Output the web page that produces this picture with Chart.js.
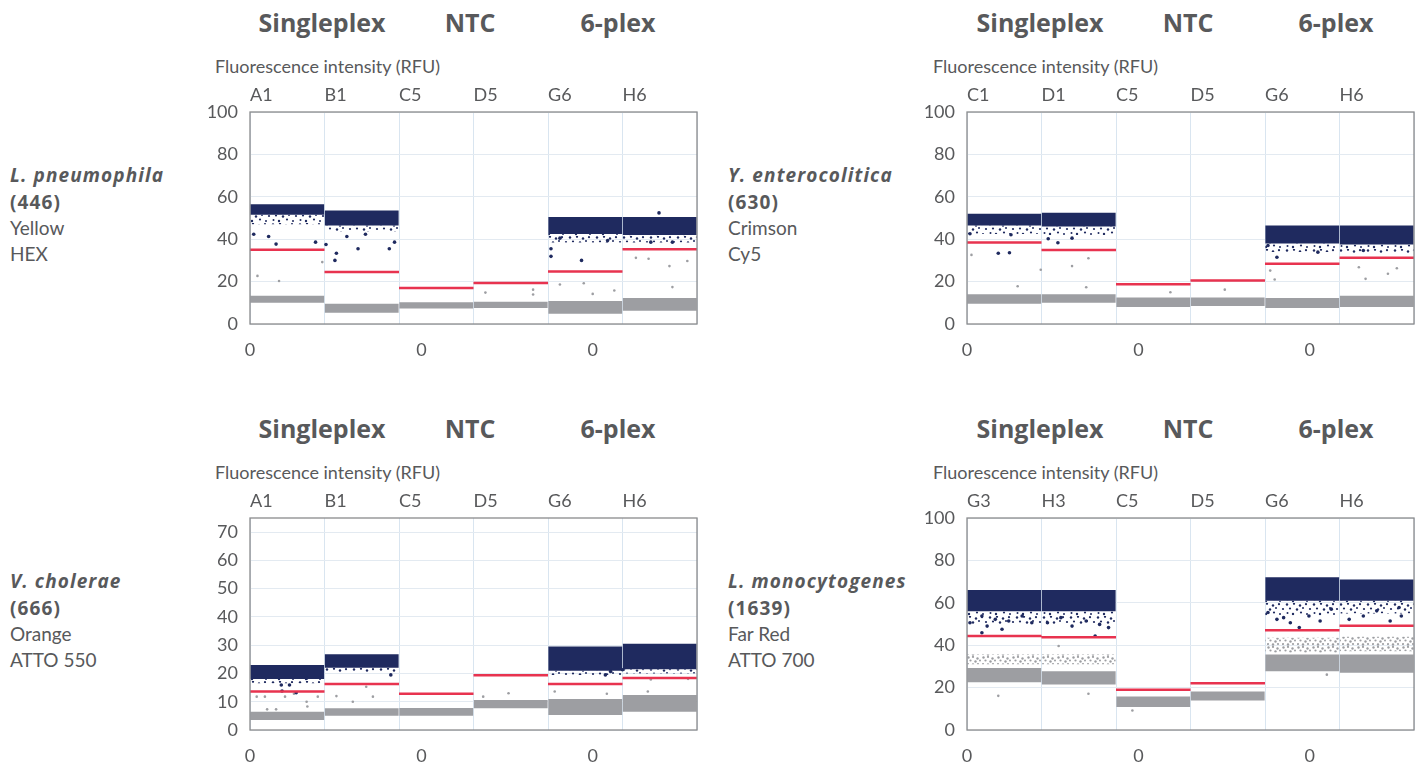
<!DOCTYPE html>
<html>
<head>
<meta charset="utf-8">
<script src="https://cdn.jsdelivr.net/npm/chart.js@4.4.1/dist/chart.umd.min.js"></script>
<style>
  body { margin: 0; width: 1421px; height: 769px; overflow: hidden; background: #fff;
         font-family: Lato, "Open Sans", sans-serif; color: #58595b; position: relative; }
  .plot { position: absolute; width: 520px; height: 290px; }
  .hdr { position: absolute; font-family: "Open Sans", sans-serif; font-weight: 700; font-size: 25px;
         transform: translate(-50%, -50%); white-space: nowrap; }
  .rfu { position: absolute; font-size: 18px; transform: translateY(-50%); white-space: nowrap; }
  .sp { position: absolute; font-size: 19px; line-height: 25.5px; white-space: nowrap; }
  .sp b { font-family: "Open Sans", sans-serif; font-weight: 700; font-size: 19px; letter-spacing: 1.1px; }
</style>
</head>
<body>

<div class="plot" style="left:190px; top:80px;"><canvas id="lp"></canvas></div>
<div class="plot" style="left:907px; top:80px;"><canvas id="ye"></canvas></div>
<div class="plot" style="left:190px; top:486px;"><canvas id="vc"></canvas></div>
<div class="plot" style="left:907px; top:486px;"><canvas id="lm"></canvas></div>

<script>
// shared labels
const groupTitles = ["Singleplex", "NTC", "6-plex"];
const axisTitle = "Fluorescence intensity (RFU)";
const eventTicks = [0, 2.3, 4.6];
const eventTickLabels = ["0", "0", "0"];

// L. pneumophila (top left)
const lpTarget = ["L. pneumophila", "(446)", "Yellow", "HEX"];
const lpWells = ["A1", "B1", "C5", "D5", "G6", "H6"];
const lpYTicks = [0, 20, 40, 60, 80, 100];
const lpYMax = 100;
const lpPosCore = [[51.5, 56.5], [46.5, 53.5], null, null, [42.5, 50.5], [42, 50.5]];
const lpPosRain = [[47, 51.5], [43.5, 46.5], null, null, [38.5, 42.5], [38.5, 42]];
const lpNeg = [[10, 13.3], [5.3, 9.5], [7.3, 10.3], [7.5, 10.5], [4.8, 10.8], [6.3, 12.3]];
const lpNegUpper = [null, null, null, null, null, null];
const lpThreshold = [35, 24.5, 17, 19.3, 24.8, 35.3];
const lpPosDots = [[0.05, 42.3], [0.25, 41.3], [0.35, 37.7], [0.88, 38.6], [1.02, 37.5], [1.16, 33.4],
  [1.14, 30], [1.3, 41.3], [1.45, 35.5], [1.55, 42.3], [1.87, 35.5], [1.94, 38.6], [4.04, 35.5],
  [4.04, 31.9], [4.45, 30], [4.16, 40.5], [4.8, 39.4], [5.38, 38.6], [5.49, 52.4], [5.67, 38.6]];
const lpNegDots = [[0.1, 22.7], [0.39, 20.3], [0.97, 29.2], [3.16, 14.8], [3.8, 16.2], [3.8, 13.9],
  [4.16, 18.6], [4.48, 19.2], [4.6, 14.2], [4.89, 15.8], [5.18, 31.2], [5.35, 30.8], [5.63, 27.3],
  [5.87, 29.7], [5.67, 17.4]];

// Y. enterocolitica (top right)
const yeTarget = ["Y. enterocolitica", "(630)", "Crimson", "Cy5"];
const yeWells = ["C1", "D1", "C5", "D5", "G6", "H6"];
const yeYTicks = [0, 20, 40, 60, 80, 100];
const yeYMax = 100;
const yePosCore = [[46.5, 52], [46, 52.5], null, null, [38, 46.5], [37.5, 46.5]];
const yePosRain = [[42.5, 46.5], [42, 46], null, null, [34, 38], [33.5, 37.5]];
const yeNeg = [[9.5, 14], [10, 14], [8, 12.5], [8.5, 12.5], [7.5, 12.3], [8, 13.3]];
const yeNegUpper = [null, null, null, null, null, null];
const yeThreshold = [38.5, 34.9, 18.8, 20.5, 28.4, 31.3];
const yePosDots = [[0.04, 42.6], [0.59, 42.1], [0.42, 33.4], [0.57, 33.6], [1.09, 40.2], [1.22, 38.3],
  [1.41, 40.5], [4.04, 37], [4.16, 31.5], [4.71, 33.9], [5.08, 38.6], [5.32, 34.7]];
const yeNegDots = [[0.06, 32.6], [0.99, 25.6], [1.41, 27.3], [1.63, 31], [0.68, 17.8], [1.6, 17.3],
  [2.73, 15], [3.46, 16.2], [4.07, 25.2], [4.13, 21], [5.26, 26.8], [5.35, 21.3], [5.65, 23.7], [5.77, 26.3]];

// V. cholerae (bottom left)
const vcTarget = ["V. cholerae", "(666)", "Orange", "ATTO 550"];
const vcWells = ["A1", "B1", "C5", "D5", "G6", "H6"];
const vcYTicks = [0, 10, 20, 30, 40, 50, 60, 70];
const vcYMax = 75;
const vcPosCore = [[18, 23], [22, 26.8], null, null, [21, 29.5], [21.5, 30.5]];
const vcPosRain = [[16.5, 18], [20.5, 22], null, null, [19.5, 21], [20, 21.5]];
const vcNeg = [[3.5, 6.5], [5, 7.7], [5, 7.8], [7.7, 10.6], [5.3, 11], [6.5, 12.4]];
const vcNegUpper = [null, null, null, null, null, null];
const vcThreshold = [13.6, 16.3, 12.8, 19.4, 16.3, 18.4];
const vcPosDots = [[0.42, 15.9], [0.53, 15.9], [0.43, 13.8], [0.62, 13.2], [0.76, 18.3], [1.89, 19.5],
  [4.77, 19.5], [4.84, 20.7], [5.0, 21.3]];
const vcNegDots = [[0.09, 11.8], [0.2, 11.8], [0.23, 7.3], [0.35, 7.3], [0.47, 11.8], [0.59, 12.8],
  [0.76, 10], [0.77, 8.3], [0.91, 11.8], [1.16, 12], [1.38, 10], [1.56, 15.3], [1.65, 11.8],
  [3.13, 11.8], [3.47, 13], [4.09, 13.6], [4.79, 12.8], [5.38, 17.9], [5.34, 13.6], [5.88, 18.1]];

// L. monocytogenes (bottom right)
const lmTarget = ["L. monocytogenes", "(1639)", "Far Red", "ATTO 700"];
const lmWells = ["G3", "H3", "C5", "D5", "G6", "H6"];
const lmYTicks = [0, 20, 40, 60, 80, 100];
const lmYMax = 100;
const lmPosCore = [[56, 66], [56, 66], null, null, [61, 72], [61, 71]];
const lmPosRain = [[50, 56], [50, 56], null, null, [54, 61], [55, 61]];
const lmNeg = [[22.5, 29.3], [21.5, 27.7], [10.8, 15.8], [13.9, 18.2], [27.7, 35.6], [27, 35.6]];
const lmNegUpper = [[31, 35.6], [31, 35.6], null, null, [36.5, 43.5], [37.2, 44]];
const lmThreshold = [44.3, 43.7, 19, 22, 47, 49.2];
const lmPosDots = [[0.04, 50.6], [0.2, 53.8], [0.27, 49], [0.38, 52.2], [0.47, 47.5], [0.56, 51.4],
  [0.74, 53.8], [0.87, 50.6], [0.2, 45.9], [1.08, 50.6], [1.26, 53], [1.41, 49], [1.6, 51.4],
  [1.78, 49.8], [1.9, 48.3], [1.72, 44.3], [4.04, 55.4], [4.16, 52.2], [4.25, 53], [4.34, 50.6],
  [4.46, 48.3], [4.59, 53.8], [4.74, 51.4], [4.89, 57], [5.13, 52.2], [5.32, 53.8], [5.5, 56.2],
  [5.68, 51.4], [5.83, 53.8], [5.8, 57.8]];
const lmNegDots = [[0.42, 16.1], [1.63, 17.1], [2.22, 9.2], [1.23, 39.6], [4.83, 26.1]];

const navy = "#1f2a5f";
const grey = "#9d9ea2";
const red = "#e8334f";
const textColor = "#58595b";

// dotted tile used as fill for the sparse parts of the droplet clouds
function dotPattern(color, dots, w, h) {
  const c = document.createElement("canvas");
  c.width = w; c.height = h;
  const g = c.getContext("2d");
  g.fillStyle = color;
  dots.forEach(d => { g.beginPath(); g.arc(d[0], d[1], d[2], 0, Math.PI * 2); g.fill(); });
  return g.createPattern(c, "repeat");
}
const navyRain = dotPattern(navy, [[2, 1.5, 1.2], [9, 0.8, 1.1], [15, 2.5, 1.2], [21, 1.2, 1.1],
  [5, 5.5, 1.1], [12, 6.5, 1.2], [18, 5, 1], [25, 6, 1.1], [2.5, 10, 1], [8, 11, 1.2],
  [16, 9.5, 1.1], [22, 11, 1]], 27, 13);
const greyLight = dotPattern(grey, [[1.5, 1.5, 1.2], [6, 1, 1.1], [10.5, 2.5, 1.2], [3.5, 4.5, 1.1],
  [8.5, 5.5, 1.2], [13, 4.5, 1], [1, 8, 1.1], [6, 8.5, 1.2], [11, 8, 1.1]], 15, 10);

// outline the plot area
const frame = {
  id: "frame",
  afterDraw(chart) {
    const a = chart.chartArea;
    const ctx = chart.ctx;
    ctx.save();
    ctx.strokeStyle = "#8a8b8d";
    ctx.lineWidth = 1.3;
    ctx.strokeRect(a.left, a.top, a.right - a.left, a.bottom - a.top);
    ctx.restore();
  }
};

function thresholdPoints(values) {
  const pts = [];
  values.forEach((t, i) => {
    pts.push({ x: i, y: t }, { x: i + 1, y: t }, { x: i + 1, y: null });
  });
  return pts;
}

function toXY(list) {
  return list.map(p => ({ x: p[0], y: p[1] }));
}

function bandSet(data, color) {
  return {
    type: "bar", xAxisID: "xw", data: data, backgroundColor: color, borderWidth: 0,
    barPercentage: 0.99, categoryPercentage: 1, grouped: false, order: 3
  };
}

function drawPanel(id, wells, yTicks, yMax, posCore, posRain, neg, negUpper, threshold, posDots, negDots) {
  const tickFont = { family: "Lato", size: 18 };
  new Chart(document.getElementById(id), {
    type: "bar",
    data: {
      labels: wells,
      datasets: [
        { type: "line", xAxisID: "x", data: thresholdPoints(threshold), borderColor: red,
          borderWidth: 2.5, pointRadius: 0, spanGaps: false, order: 0 },
        { type: "scatter", xAxisID: "x", data: toXY(posDots), backgroundColor: navy,
          borderWidth: 0, pointRadius: 1.8, order: 1 },
        { type: "scatter", xAxisID: "x", data: toXY(negDots), backgroundColor: grey,
          borderWidth: 0, pointRadius: 1.3, order: 1 },
        bandSet(posRain, navyRain),
        bandSet(posCore, navy),
        bandSet(negUpper, greyLight),
        bandSet(neg, grey)
      ]
    },
    options: {
      responsive: true,
      maintainAspectRatio: false,
      animation: false,
      layout: { padding: { right: 13 } },
      plugins: { legend: { display: false }, tooltip: { enabled: false } },
      scales: {
        xw: { type: "category", labels: wells, display: false, offset: true },
        x: {
          type: "linear", position: "bottom", min: 0, max: 6, offset: false,
          grid: { display: false, drawTicks: false, offset: false }, border: { display: false },
          afterBuildTicks: s => { s.ticks = eventTicks.map(v => ({ value: v })); },
          ticks: { callback: (v, i) => eventTickLabels[i], color: textColor, font: tickFont,
                   padding: 15, maxRotation: 0, autoSkip: false },
          afterFit: s => { s.height = 46; }
        },
        xTop: {
          type: "linear", position: "top", min: 0, max: 6, offset: false,
          grid: { color: "#d9e5f0", drawTicks: false, offset: false }, border: { display: false },
          ticks: { stepSize: 1, align: "start", callback: v => wells[v] || "", color: textColor,
                   font: tickFont, padding: 6, maxRotation: 0, autoSkip: false },
          afterFit: s => { s.height = 32; }
        },
        y: {
          min: 0, max: yMax,
          afterBuildTicks: s => { s.ticks = yTicks.map(v => ({ value: v })); },
          grid: { color: "#e3eaf1", drawTicks: false }, border: { display: false },
          ticks: { color: textColor, font: tickFont, padding: 12 },
          afterFit: s => { s.width = 60; }
        }
      }
    },
    plugins: [frame]
  });
}

// page texts: group headers, axis title, target description
function addTexts(left, top, target) {
  const centers = [132, 280, 428];
  groupTitles.forEach((t, i) => {
    const d = document.createElement("div");
    d.className = "hdr";
    d.style.left = (left + centers[i]) + "px";
    d.style.top = (top + 22) + "px";
    d.textContent = t;
    document.body.appendChild(d);
  });
  const r = document.createElement("div");
  r.className = "rfu";
  r.style.left = (left + 25) + "px";
  r.style.top = (top + 66) + "px";
  r.textContent = axisTitle;
  document.body.appendChild(r);

  const s = document.createElement("div");
  s.className = "sp";
  s.style.left = (left - 180) + "px";
  s.style.top = (top + 162) + "px";
  s.innerHTML = `<b><i>${target[0]}</i></b><br><b>${target[1]}</b><br>${target[2]}<br>${target[3]}`;
  document.body.appendChild(s);
}

addTexts(190, 0, lpTarget);
addTexts(908, 0, yeTarget);
addTexts(190, 406, vcTarget);
addTexts(908, 406, lmTarget);

drawPanel("lp", lpWells, lpYTicks, lpYMax, lpPosCore, lpPosRain, lpNeg, lpNegUpper, lpThreshold, lpPosDots, lpNegDots);
drawPanel("ye", yeWells, yeYTicks, yeYMax, yePosCore, yePosRain, yeNeg, yeNegUpper, yeThreshold, yePosDots, yeNegDots);
drawPanel("vc", vcWells, vcYTicks, vcYMax, vcPosCore, vcPosRain, vcNeg, vcNegUpper, vcThreshold, vcPosDots, vcNegDots);
drawPanel("lm", lmWells, lmYTicks, lmYMax, lmPosCore, lmPosRain, lmNeg, lmNegUpper, lmThreshold, lmPosDots, lmNegDots);
</script>
</body>
</html>
